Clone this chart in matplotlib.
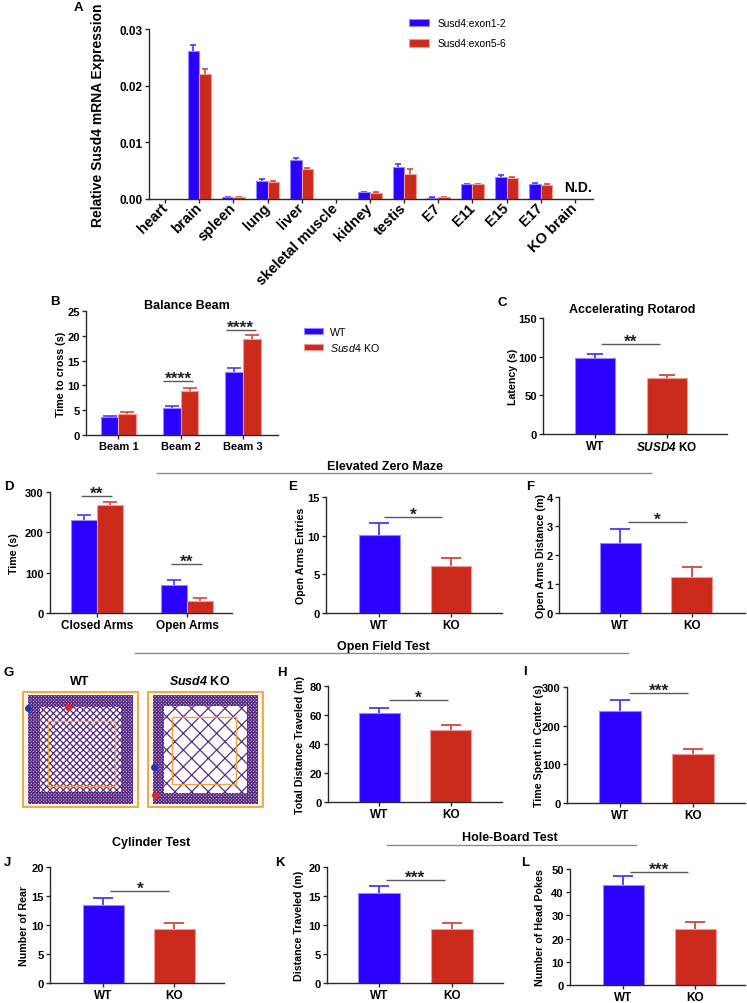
import numpy as np
import matplotlib
matplotlib.use('Agg')
import matplotlib.pyplot as plt
from matplotlib.patches import Rectangle
from matplotlib.lines import Line2D

plt.rcParams['font.family'] = ['Liberation Sans', 'DejaVu Sans']
plt.rcParams['font.weight'] = 'bold'
plt.rcParams['axes.labelweight'] = 'bold'
plt.rcParams['mathtext.fontset'] = 'custom'
plt.rcParams['mathtext.it'] = 'Liberation Sans:style=italic:weight=normal'
plt.rcParams['mathtext.bf'] = 'Liberation Sans:style=italic:weight=bold'
plt.rcParams['mathtext.rm'] = 'Liberation Sans:weight=normal'
plt.rcParams['hatch.linewidth'] = 0.9

# ---------------- data ----------------
# Panel A
tissues = ['heart', 'brain', 'spleen', 'lung', 'liver', 'skeletal muscle', 'kidney',
           'testis', 'E7', 'E11', 'E15', 'E17', 'KO brain']
exon12_mean = [0.0, 0.0261, 0.0003, 0.0032, 0.0068, 0.0, 0.0012, 0.0056, 0.0002, 0.0026, 0.0039, 0.0026, 0.0]
exon12_err = [0.0, 0.0011, 0.0001, 0.0003, 0.0004, 0.0, 0.0001, 0.0005, 0.0001, 0.0001, 0.0003, 0.0003, 0.0]
exon56_mean = [0.0, 0.0221, 0.0003, 0.0030, 0.0053, 0.0, 0.0011, 0.0045, 0.0003, 0.0026, 0.0037, 0.0024, 0.0]
exon56_err = [0.0, 0.0009, 0.0001, 0.0002, 0.0002, 0.0, 0.0001, 0.0008, 0.0001, 0.0001, 0.0002, 0.0002, 0.0]
series_a = ['Susd4:exon1-2', 'Susd4:exon5-6']

# Panel B  Balance beam
beams = ['Beam 1', 'Beam 2', 'Beam 3']
beam_wt = [3.56, 5.38, 12.77]
beam_wt_err = [0.27, 0.40, 0.81]
beam_ko = [4.30, 8.80, 19.30]
beam_ko_err = [0.34, 0.68, 0.80]
beam_sig = ['', '****', '****']
beam_sig_y = [0, 10.8, 21.1]

genotypes = ['WT', 'KO']
# Panel C  Rotarod
rotarod = [98.0, 71.8]
rotarod_err = [5.6, 5.1]
# Panel D  Elevated zero maze time
maze_arms = ['Closed Arms', 'Open Arms']
arms_wt = [229.4, 69.0]
arms_wt_err = [12.4, 13.3]
arms_ko = [268.4, 30.7]
arms_ko_err = [6.6, 7.5]
arms_sig_y = [289, 121]
# Panel E / F
entries = [10.09, 6.08]
entries_err = [1.59, 1.03]
open_dist = [2.425, 1.25]
open_dist_err = [0.485, 0.325]
# Panel H / I  open field
total_dist = [61.6, 49.9]
total_dist_err = [3.4, 3.2]
center_time = [238.7, 125.9]
center_time_err = [26.9, 13.8]
# Panel J / K / L
rears = [13.41, 9.23]
rears_err = [1.32, 1.07]
hb_dist = [15.59, 9.34]
hb_dist_err = [1.14, 0.96]
head_pokes = [43.2, 24.0]
head_pokes_err = [3.6, 3.0]

# ---------------- style ----------------
W, H = 747, 1004
fig = plt.figure(figsize=(W / 100, H / 100), dpi=100)

BLUE = '#2B00FF'
BLUE_EDGE = '#9088FF'
BLUE_ERR = '#4A38FF'
RED = '#CD2A1E'
RED_EDGE = '#EE9C94'
RED_ERR = '#D6463B'
SIGC = '#5A5A5A'
AXC = '#2A2A2A'
HDRC = '#8A8A8A'


def add_ax(x0, x1, ytop, ybot):
    return fig.add_axes([x0 / W, 1 - ybot / H, (x1 - x0) / W, (ybot - ytop) / H])


def ftext(x, y, s, **kw):
    kw.setdefault('ha', 'center')
    kw.setdefault('va', 'center')
    return fig.text(x / W, 1 - y / H, s, **kw)


def hline(x0, x1, y, color=HDRC, lw=1.0):
    fig.add_artist(Line2D([x0 / W, x1 / W], [1 - y / H, 1 - y / H], color=color, lw=lw))


def style(ax, ylim, yticks, xlim, ylab, ylab_x, ytick_fs=8, ylab_fs=7.7, fmt=None):
    ax.set_xlim(*xlim)
    ax.set_ylim(*ylim)
    ax.set_yticks(yticks)
    if fmt:
        ax.set_yticklabels([fmt % v for v in yticks])
    for s in ['top', 'right']:
        ax.spines[s].set_visible(False)
    for s in ['left', 'bottom']:
        ax.spines[s].set_color(AXC)
        ax.spines[s].set_linewidth(1.0)
    ax.tick_params(axis='both', direction='out', length=3, width=1.0, color=AXC, pad=1.5)
    ax.tick_params(axis='y', labelsize=ytick_fs)
    ax.set_ylabel(ylab, fontsize=ylab_fs, va='center')
    pos = ax.get_position()
    ax.yaxis.set_label_coords((ylab_x / W - pos.x0) / pos.width, 0.5)


def sig(ax, a, b, y, stars):
    ax.plot([a, b], [y, y], color=SIGC, lw=1.0, clip_on=False, solid_capstyle='butt')
    ax.annotate(stars, xy=((a + b) / 2, y), xytext=(0, -1.2), textcoords='offset points',
                ha='center', va='baseline', fontsize=12.5, color='#222222', annotation_clip=False)


def two_bar(ax, vals, errs, labels, cap=7, width=0.57, fs=8.5):
    cols = [BLUE, RED]
    edges = [BLUE_EDGE, RED_EDGE]
    ecols = [BLUE_ERR, RED_ERR]
    for i in range(len(vals)):
        ax.bar(i, vals[i], width, color=cols[i], edgecolor=edges[i], linewidth=0.8, zorder=2)
        ax.errorbar(i, vals[i], yerr=errs[i], fmt='none', ecolor=ecols[i],
                    elinewidth=1.3, capsize=cap, capthick=1.3, zorder=1)
    ax.set_xticks(range(len(vals)))
    ax.set_xticklabels(labels, fontsize=fs)


# ---------------- Panel A ----------------
axA = add_ax(149, 593, 30, 200)
xa = np.arange(len(tissues))
bw = 0.34
bA1 = axA.bar(xa - bw / 2, exon12_mean, bw, color=BLUE, edgecolor=BLUE_EDGE, linewidth=0.8, zorder=2)
bA2 = axA.bar(xa + bw / 2, exon56_mean, bw, color=RED, edgecolor=RED_EDGE, linewidth=0.8, zorder=2)
m1 = np.array(exon12_mean) > 0
m2 = np.array(exon56_mean) > 0
axA.errorbar((xa - bw / 2)[m1], np.array(exon12_mean)[m1], yerr=np.array(exon12_err)[m1],
             fmt='none', ecolor=BLUE_ERR, elinewidth=1.2, capsize=2.3, capthick=1.2, zorder=1)
axA.errorbar((xa + bw / 2)[m2], np.array(exon56_mean)[m2], yerr=np.array(exon56_err)[m2],
             fmt='none', ecolor=RED_ERR, elinewidth=1.2, capsize=2.3, capthick=1.2, zorder=1)
style(axA, (0, 0.03), [0, 0.01, 0.02, 0.03], (-0.47, 12.53), 'Relative Susd4 mRNA Expression', 98,
      ytick_fs=8.5, ylab_fs=10, fmt='%.2f')
axA.set_xticks(xa)
axA.set_xticklabels(tissues, rotation=45, ha='right', va='center', rotation_mode='anchor', fontsize=10.5)
ftext(578, 188, 'N.D.', fontsize=10, fontweight='bold')
fig.legend([bA1, bA2], series_a, loc='upper left', bbox_to_anchor=(409 / W, 1 - 19 / H),
           frameon=False, borderpad=0, borderaxespad=0, handlelength=1.95, handleheight=0.78,
           handletextpad=0.85, labelspacing=1.0, prop={'weight': 'normal', 'size': 7.4})
ftext(78, 8, 'A', fontsize=9.5, fontweight='bold')

# ---------------- Panel B ----------------
axB = add_ax(86, 278, 312, 436)
xb = np.arange(len(beams))
w2 = 0.283
bB1 = axB.bar(xb - w2 / 2, beam_wt, w2, color=BLUE, edgecolor=BLUE_EDGE, linewidth=0.8, zorder=2)
bB2 = axB.bar(xb + w2 / 2, beam_ko, w2, color=RED, edgecolor=RED_EDGE, linewidth=0.8, zorder=2)
axB.errorbar(xb - w2 / 2, beam_wt, yerr=beam_wt_err, fmt='none', ecolor=BLUE_ERR,
             elinewidth=1.2, capsize=5, capthick=1.2, zorder=1)
axB.errorbar(xb + w2 / 2, beam_ko, yerr=beam_ko_err, fmt='none', ecolor=RED_ERR,
             elinewidth=1.2, capsize=5, capthick=1.2, zorder=1)
style(axB, (0, 25), [0, 5, 10, 15, 20, 25], (-0.52, 2.56), 'Time to cross (s)', 61)
axB.set_xticks(xb)
axB.set_xticklabels(beams, fontsize=8)
for i in range(len(beams)):
    if beam_sig[i]:
        sig(axB, i - 0.28, i + 0.2, beam_sig_y[i], beam_sig[i])
ftext(187, 306, 'Balance Beam', fontsize=9)
ftext(55, 302, 'B', fontsize=9.5)
fig.legend([bB1, bB2], ['WT', r'$\mathit{Susd4}$ KO'], loc='upper left', bbox_to_anchor=(304 / W, 1 - 328 / H),
           frameon=False, borderpad=0, borderaxespad=0, handlelength=1.8, handleheight=0.55,
           handletextpad=0.65, labelspacing=0.34, prop={'weight': 'normal', 'size': 7.7})

# ---------------- Panel C ----------------
axC = add_ax(543, 727, 319, 435)
two_bar(axC, rotarod, rotarod_err, ['WT', r'$\mathbf{SUSD4}$ KO'], cap=5.5, width=0.565)
style(axC, (0, 150), [0, 50, 100, 150], (-0.72, 1.83), 'Latency (s)', 513)
sig(axC, 0.09, 0.9, 116.5, '**')
ftext(632, 310, 'Accelerating Rotarod', fontsize=9)
ftext(502, 303, 'C', fontsize=9.5)

# ---------------- Elevated zero maze header ----------------
ftext(385, 467, 'Elevated Zero Maze', fontsize=9)
hline(157, 651, 474)

# ---------------- Panel D ----------------
axD = add_ax(50, 232, 493, 614)
xd = np.arange(len(maze_arms))
w3 = 0.29
axD.bar(xd - w3 / 2, arms_wt, w3, color=BLUE, edgecolor=BLUE_EDGE, linewidth=0.8, zorder=2)
axD.bar(xd + w3 / 2, arms_ko, w3, color=RED, edgecolor=RED_EDGE, linewidth=0.8, zorder=2)
axD.errorbar(xd - w3 / 2, arms_wt, yerr=arms_wt_err, fmt='none', ecolor=BLUE_ERR,
             elinewidth=1.2, capsize=5, capthick=1.2, zorder=1)
axD.errorbar(xd + w3 / 2, arms_ko, yerr=arms_ko_err, fmt='none', ecolor=RED_ERR,
             elinewidth=1.2, capsize=5, capthick=1.2, zorder=1)
style(axD, (0, 300), [0, 100, 200, 300], (-0.52, 1.5), 'Time (s)', 14)
axD.set_xticks(xd)
axD.set_xticklabels(maze_arms, fontsize=8.5)
for i in range(2):
    sig(axD, i - 0.18, i + 0.17, arms_sig_y[i], '**')
ftext(9, 487, 'D', fontsize=9.5)

# ---------------- Panel E ----------------
axE = add_ax(326, 502, 498, 614)
two_bar(axE, entries, entries_err, genotypes)
style(axE, (0, 15), [0, 5, 10, 15], (-0.74, 1.71), 'Open Arms Entries', 301)
sig(axE, 0.07, 0.88, 12.46, '*')
ftext(293, 487, 'E', fontsize=9.5)

# ---------------- Panel F ----------------
axF = add_ax(559, 745, 498, 614)
two_bar(axF, open_dist, open_dist_err, genotypes)
style(axF, (0, 4), [0, 1, 2, 3, 4], (-0.85, 1.74), 'Open Arms Distance (m)', 541)
sig(axF, 0.11, 0.93, 3.14, '*')
ftext(530, 487, 'F', fontsize=9.5)

# ---------------- Open field header ----------------
ftext(383, 647, 'Open Field Test', fontsize=9)
hline(135, 628, 654)

# ---------------- Panel G (tracking traces) ----------------
axG = add_ax(0, 270, 655, 815)
axG.set_xlim(0, 270)
axG.set_ylim(815, 655)
axG.axis('off')
PURPLE = '#5A2E84'
ORANGE = '#F2A33A'
for (bx, inner_hatch, inset, cz) in [(23, 'xxxxx', 12, (48, 722, 67, 65)), (148, 'xx', 11, (172, 718, 64, 67))]:
    axG.add_patch(Rectangle((bx, 693), 115, 115, facecolor='#FBF6E8', edgecolor=ORANGE, lw=1.3))
    axG.add_patch(Rectangle((bx + 5, 696), 105, 109, facecolor='#D9CCE3', edgecolor=PURPLE,
                            lw=0, hatch='xxxxxxxxxx'))
    axG.add_patch(Rectangle((bx + 5 + inset, 696 + inset), 105 - 2 * inset, 109 - 2 * inset,
                            facecolor='white', edgecolor=PURPLE, lw=0, hatch=inner_hatch))
    axG.add_patch(Rectangle((cz[0], cz[1]), cz[2], cz[3], facecolor='none', edgecolor=ORANGE, lw=1.0))
axG.plot([28], [709], 'o', color='#2432B8', ms=4)
axG.plot([68], [708], 'o', color='#E0262B', ms=4)
axG.plot([154], [768], 'o', color='#2432B8', ms=4)
axG.plot([155], [796], 'o', color='#E0262B', ms=4)
ftext(80, 682, 'WT', fontsize=9)
ftext(200, 682, r'$\mathbf{Susd4}$ KO', fontsize=9)
ftext(9, 673, 'G', fontsize=9.5)

# ---------------- Panel H ----------------
axH = add_ax(328, 502, 687, 803)
two_bar(axH, total_dist, total_dist_err, genotypes)
style(axH, (0, 80), [0, 20, 40, 60, 80], (-0.71, 1.71), 'Total Distance Traveled (m)', 300)
sig(axH, 0.14, 0.96, 70.6, '*')
ftext(282, 673, 'H', fontsize=9.5)

# ---------------- Panel I ----------------
axI = add_ax(567, 745, 688, 804)
two_bar(axI, center_time, center_time_err, genotypes)
style(axI, (0, 300), [0, 100, 200, 300], (-0.73, 1.71), 'Time Spent in Center (s)', 539)
sig(axI, 0.12, 0.93, 283.7, '***')
ftext(525, 672, 'I', fontsize=9.5)

# ---------------- Panel J ----------------
axJ = add_ax(50, 224, 868, 984)
two_bar(axJ, rears, rears_err, genotypes)
style(axJ, (0, 20), [0, 5, 10, 15, 20], (-0.75, 1.70), 'Number of Rear', 24)
sig(axJ, 0.1, 0.93, 15.9, '*')
ftext(151, 843, 'Cylinder Test', fontsize=9)
ftext(7, 863, 'J', fontsize=9.5)

# ---------------- Hole-board header ----------------
ftext(510, 838, 'Hole-Board Test', fontsize=9)
hline(387, 636, 846)

# ---------------- Panel K ----------------
axK = add_ax(327, 503, 868, 984)
two_bar(axK, hb_dist, hb_dist_err, genotypes)
style(axK, (0, 20), [0, 5, 10, 15, 20], (-0.71, 1.70), 'Distance Traveled (m)', 299)
sig(axK, 0.1, 0.9, 17.7, '***')
ftext(280, 863, 'K', fontsize=9.5)

# ---------------- Panel L ----------------
axL = add_ax(570, 745, 870, 986)
two_bar(axL, head_pokes, head_pokes_err, genotypes)
style(axL, (0, 50), [0, 10, 20, 30, 40, 50], (-0.74, 1.69), 'Number of Head Pokes', 540)
sig(axL, 0.1, 0.9, 48.85, '***')
ftext(525, 863, 'L', fontsize=9.5)

fig.savefig('out.png', dpi=100)
